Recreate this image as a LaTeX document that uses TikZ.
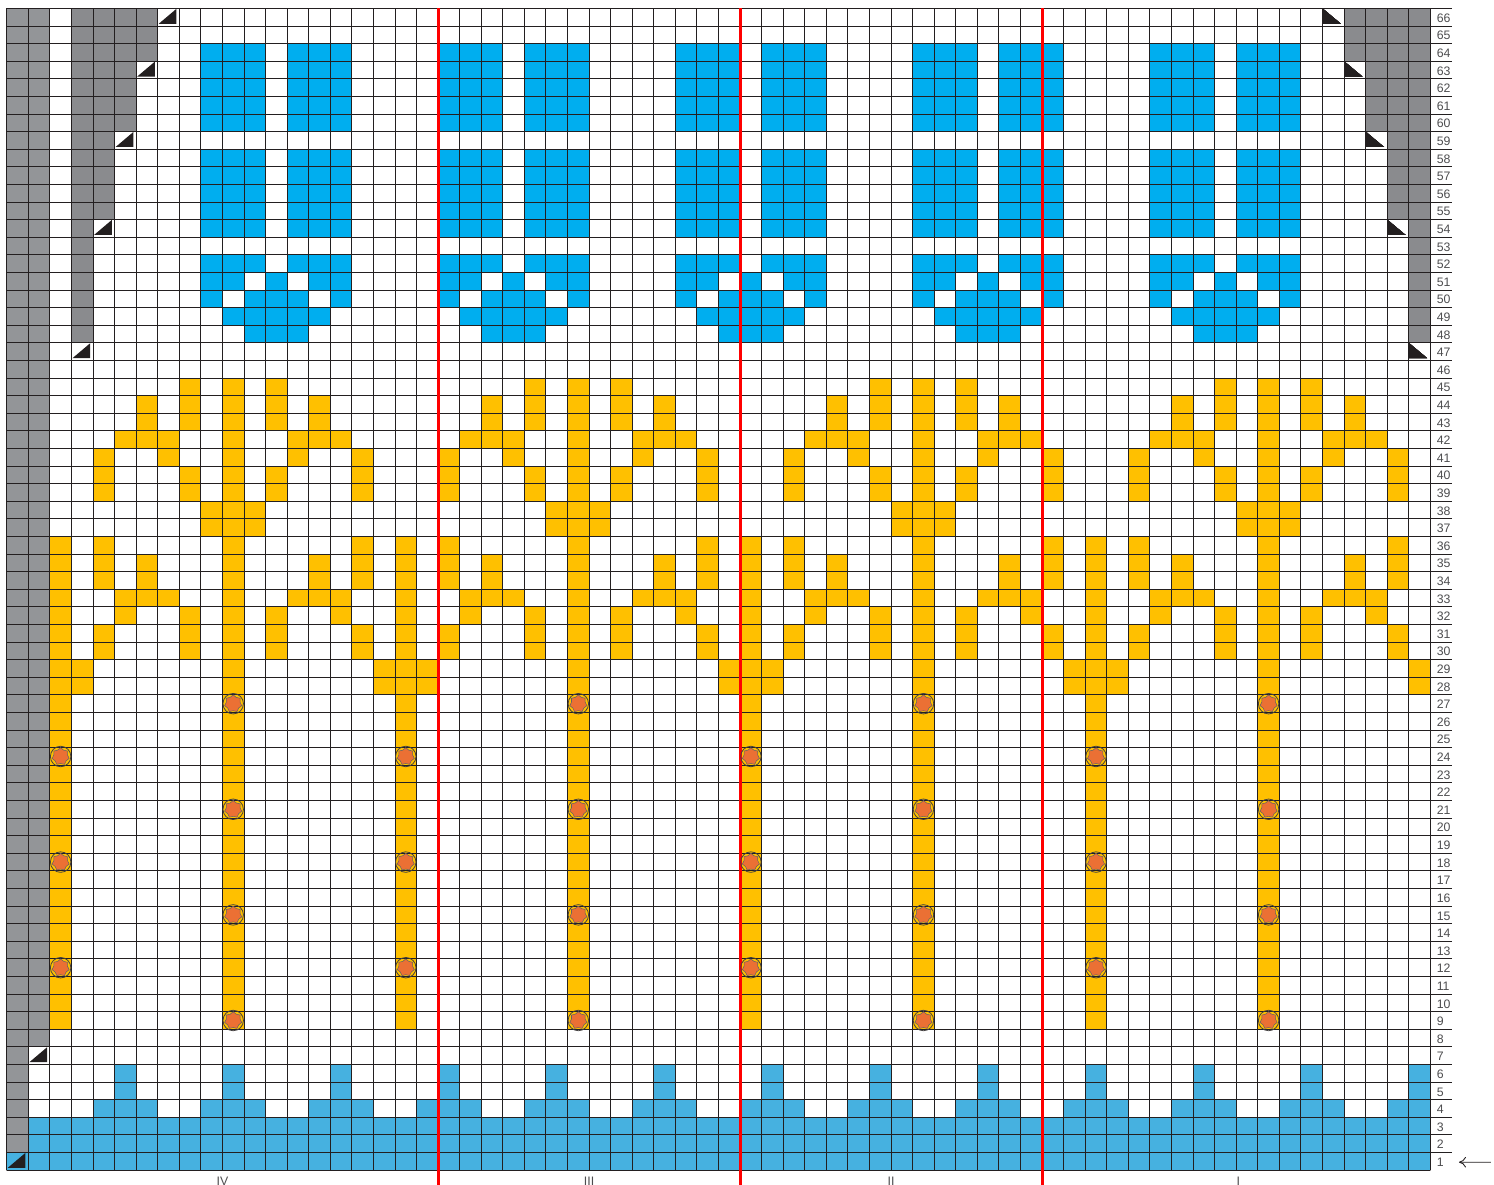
\documentclass[tikz,border=0pt]{standalone}
\usepackage{fontspec}
\setmainfont{Liberation Sans}
\usepackage{tikz}
\usetikzlibrary{shapes.geometric,arrows.meta}
\definecolor{selvgray}{RGB}{147,149,152}
\definecolor{edgegray}{RGB}{138,139,142}
\definecolor{topblue}{RGB}{0,174,239}
\definecolor{rimblue}{RGB}{70,177,224}
\definecolor{stemyellow}{RGB}{255,192,0}
\definecolor{beadorange}{RGB}{235,112,52}
\definecolor{inkblack}{RGB}{35,31,32}
\definecolor{numgray}{RGB}{77,77,79}

\begin{document}
\begin{tikzpicture}[x=0.4314cm,y=0.352cm,
  gridline/.style={inkblack, line width=0.55pt},
  repeatline/.style={red, line width=1.7pt},
  marker/.style={fill=inkblack, draw=none},
  rownum/.style={anchor=base west, inner sep=0pt, text=numgray, font=\fontsize{7}{8}\selectfont},
  seclabel/.style={anchor=base, inner sep=0pt, text=numgray, font=\fontsize{7}{8}\selectfont},
  beadring/.style={circle, draw=inkblack!85, line width=0.45pt, minimum size=0.41cm, inner sep=0pt},
  beadstar/.style={star, star points=7, star point ratio=1.25, minimum size=0.35cm, inner sep=0pt, fill=beadorange, draw=inkblack!70, line width=0.3pt}]
  % frame
  \useasboundingbox (-0.311,-0.795) rectangle (68.95,66.48);
  \clip (-0.311,-0.795) rectangle (68.95,66.48);
  \def\sq#1#2#3{\fill[#3] ({#1-1},{#2-1}) rectangle ++(1,1);}
  \def\trl#1#2{\fill[marker] ({#1-0.95},{#2-0.87}) -- ({#1-0.13},{#2-0.87}) -- ({#1-0.13},{#2-0.02}) -- cycle;}
  \def\trr#1#2{\fill[marker] ({#1-0.98},{#2-0.02}) -- ({#1-0.98},{#2-0.87}) -- ({#1-0.15},{#2-0.87}) -- cycle;}
    % rib border
    \fill[rimblue] (0,0) rectangle (66,3);
    \foreach \p in {6,11,...,66}{
      \fill[rimblue] ({\p-2},3) rectangle ({min(\p+1,66)},4);
      \fill[rimblue] ({\p-1},4) rectangle (\p,6);
    }
    % selvage
    \fill[selvgray] (0,1) rectangle (1,66);
    \fill[selvgray] (1,7) rectangle (2,66);
    % shaping
    \foreach \k/\r in {0/47,1/54,2/59,3/63}{
      \fill[edgegray] (3+\k,\r) rectangle (4+\k,66);
      \fill[edgegray] (65-\k,\r) rectangle (66-\k,66);
    }
    % blue motif
    \foreach \m in {13,24,35,46,57}{
      \foreach \ya/\yb in {59/64,53/58,51/52}{
        \fill[topblue] ({\m-4},\ya) rectangle ({\m-1},\yb);
        \fill[topblue] (\m,\ya) rectangle ({\m+3},\yb);
      }
      \foreach \dx in {-3,-2,0,2,3} \sq{\m+\dx}{51}{topblue}
      \foreach \dx in {-3,-1,0,1,3} \sq{\m+\dx}{50}{topblue}
      \fill[topblue] ({\m-3},48) rectangle ({\m+2},49);
      \fill[topblue] ({\m-2},47) rectangle ({\m+1},48);
    }
    % yellow stems
    \foreach \c in {11,27,43,59}{
      \fill[stemyellow] ({\c-1},8) rectangle (\c,45);
      \foreach \s in {-1,1}
        \foreach \dx/\ya/\yb in {2/45/45,2/43/44,4/43/44,3/42/42,4/42/42,5/42/42,3/41/41,6/39/41,2/39/40,1/37/38,6/34/36,4/34/35,3/33/33,4/33/33,5/33/33,2/32/32,5/32/32,2/30/31,6/30/31}
          \fill[stemyellow] ({\c+\s*\dx-1},{\ya-1}) rectangle ({\c+\s*\dx},\yb);
    }
    \foreach \d in {3,19,35,51}
      \fill[stemyellow] ({\d-1},8) rectangle (\d,36);
    \foreach \d in {19,35,51}
      \fill[stemyellow] ({\d-2},27) rectangle ({\d+1},29);
    \fill[stemyellow] (3,27) rectangle (4,29);
    \fill[stemyellow] (65,27) rectangle (66,29);
    % shaping marks
    \foreach \cc/\rr in {1/1,2/7,4/47,5/54,6/59,7/63,8/66} \trl{\cc}{\rr}
    \foreach \cc/\rr in {66/47,65/54,64/59,63/63,62/66} \trr{\cc}{\rr}
    % grid
    \foreach \i in {0,...,66} \draw[gridline] (\i,0) -- (\i,66);
    \draw[gridline] (0,0) -- (66,0);
    \foreach \j in {1,...,66} \draw[gridline] (0,\j) -- (67,\j);
    % repeats
    \foreach \x in {20,34,48} \draw[repeatline] (\x,66) -- (\x,-1);
    % beads
    \foreach \c in {11,27,43,59}
      \foreach \r in {9,15,21,27}{
        \node[beadstar] (star-\c-\r) at ({\c-0.5},{\r-0.5}) {};
        \node[beadring] (bead-\c-\r) at ({\c-0.5},{\r-0.5}) {};
      }
    \foreach \d in {3,19,35,51}
      \foreach \r in {12,18,24}{
        \node[beadstar] (star-\d-\r) at ({\d-0.5},{\r-0.5}) {};
        \node[beadring] (bead-\d-\r) at ({\d-0.5},{\r-0.5}) {};
      }
    % row numbers
    \foreach \j in {1,...,66}
      \node[rownum] (r\j) at (66.28,{\j-0.79}) {\j};
    \coordinate (arrowtail) at (68.8,0.45);
    \draw[inkblack, line width=0.5pt, -{To[length=4pt,width=6pt]}, shorten >=0.3cm] (arrowtail) -- (r1);
    % sections
    \node[seclabel] (sec4) at (10,-0.86) {IV};
    \node[seclabel] (sec3) at (27,-0.86) {III};
    \node[seclabel] (sec2) at (41,-0.86) {II};
    \node[seclabel] (sec1) at (57.1,-0.86) {I};
\end{tikzpicture}
\end{document}
